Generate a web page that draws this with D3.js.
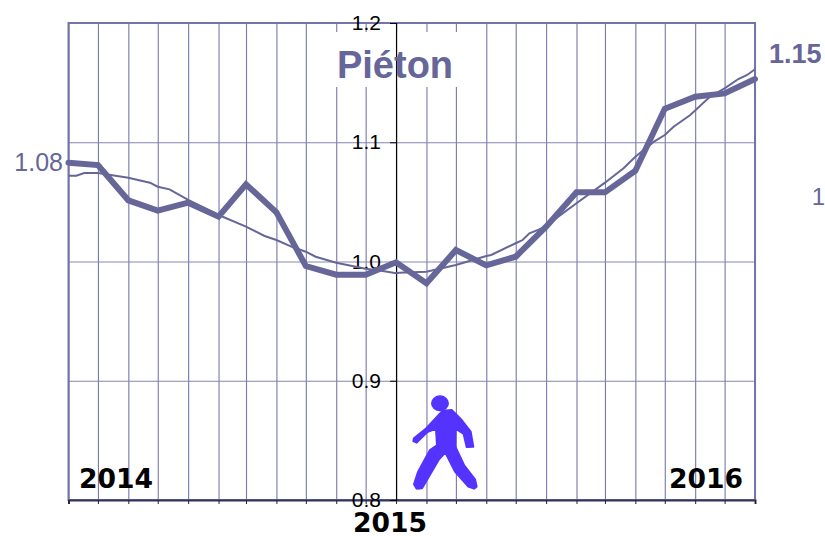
<!DOCTYPE html>
<html>
<head>
<meta charset="utf-8">
<script src="https://cdn.jsdelivr.net/npm/d3@7"></script>
<style>
  html, body { margin: 0; padding: 0; background: #fff; overflow: hidden; }
  svg { display: block; }
</style>
</head>
<body>
<div id="chart"></div>
<script>
// Data
const months = ["2014-09-01","2014-10-01","2014-11-01","2014-12-01","2015-01-01","2015-02-01","2015-03-01","2015-04-01",
  "2015-05-01","2015-06-01","2015-07-01","2015-08-01","2015-09-01","2015-10-01","2015-11-01","2015-12-01",
  "2016-01-01","2016-02-01","2016-03-01","2016-04-01","2016-05-01","2016-06-01","2016-07-01","2016-08-01"];
const monthly_values = [1.0829,1.0809,1.0513,1.0426,1.0493,1.0376,1.0647,1.0413,
  0.9962,0.9889,0.9889,0.9993,0.9817,1.0096,0.9968,1.0040,
  1.0292,1.0580,1.0580,1.0761,1.1281,1.1382,1.1410,1.1530];

const trend_dates = ["2014-09-01","2014-09-09","2014-09-17","2014-10-01","2014-11-01","2014-11-23","2014-12-01","2014-12-13",
  "2015-01-01","2015-02-01","2015-03-01","2015-03-20","2015-04-01","2015-04-18","2015-05-01","2015-05-11",
  "2015-06-01","2015-07-01","2015-07-17","2015-08-01","2015-08-04","2015-09-01","2015-10-01","2015-11-01",
  "2015-11-06","2015-12-01","2015-12-08","2015-12-15","2016-01-01","2016-01-11","2016-02-01","2016-03-01",
  "2016-03-20","2016-04-01","2016-04-20","2016-05-01","2016-05-10","2016-05-27","2016-06-16","2016-07-01",
  "2016-07-15","2016-07-24","2016-08-01"];
const trend_values = [1.0719,1.0719,1.0742,1.0742,1.0703,1.0661,1.0627,1.0605,
  1.0516,1.0390,1.0292,1.0214,1.0180,1.0119,1.0082,1.0040,
  0.9990,0.9940,0.9923,0.9901,0.9906,0.9914,0.9971,1.0046,
  1.0055,1.0153,1.0180,1.0236,1.0292,1.0362,1.0488,1.0661,
  1.0782,1.0879,1.1005,1.1061,1.1130,1.1229,1.1382,1.1452,
  1.1530,1.1564,1.1612];

const y_ticks = [0.8, 0.9, 1.0, 1.1, 1.2];
const title_text = "Piéton";
const start_label = "1.08";
const end_label = "1.15";
const cut_label = "1";
const year_labels = ["2014", "2015", "2016"];

const purple = "#666699";
const width = 825, height = 536;
const margin = { top: 23, right: 70, bottom: 36, left: 68.5 };
const inner_w = width - margin.left - margin.right;
const inner_h = height - margin.top - margin.bottom;

const parseDay = d3.timeParse("%Y-%m-%d");
const month_dates = months.map(parseDay);
const monthly = month_dates.map((d, i) => ({ date: d, value: monthly_values[i] }));
const trend = trend_dates.map((d, i) => ({ date: parseDay(d), value: trend_values[i] }));

const x = d3.scaleTime()
  .domain(d3.extent(month_dates))
  .range([0, inner_w]);
const y = d3.scaleLinear()
  .domain([0.8, 1.2])
  .range([inner_h, 0]);

const svg = d3.select("#chart").append("svg")
  .attr("width", width)
  .attr("height", height)
  .append("g")
  .attr("transform", `translate(${margin.left},${margin.top})`);

// Grid
const grid_x = svg.append("g")
  .attr("transform", `translate(0,${inner_h})`)
  .call(d3.axisBottom(x).tickValues(month_dates).tickSize(-inner_h).tickFormat(""));
grid_x.select(".domain").remove();
grid_x.selectAll(".tick line").attr("stroke", "#7777ab").attr("stroke-width", 1.1);

const grid_y = svg.append("g")
  .call(d3.axisLeft(y).tickValues(y_ticks).tickSize(-inner_w).tickFormat(""));
grid_y.select(".domain").remove();
grid_y.selectAll(".tick line").attr("stroke", "#8585b3").attr("stroke-width", 1);

// Frame
svg.append("rect")
  .attr("width", inner_w)
  .attr("height", inner_h)
  .attr("fill", "none")
  .attr("stroke", "#7474aa")
  .attr("stroke-width", 2);

// White box behind the title
svg.append("rect")
  .attr("x", 320 - margin.left)
  .attr("y", 32 - margin.top)
  .attr("width", 150)
  .attr("height", 55)
  .attr("fill", "#fff");

// Month ticks and baseline
const x_axis = svg.append("g")
  .attr("transform", `translate(0,${inner_h})`)
  .call(d3.axisBottom(x).tickValues(month_dates).tickSize(4).tickFormat(""));
x_axis.select(".domain").attr("stroke", "#33335a").attr("stroke-width", 2);
x_axis.selectAll(".tick line").attr("stroke", "#222");

// Y axis sits in the middle of the chart (August 2015)
const y_axis = svg.append("g")
  .attr("transform", `translate(${x(parseDay("2015-08-01"))},0)`)
  .call(d3.axisLeft(y).tickValues(y_ticks).tickSize(6).tickPadding(9).tickFormat(d3.format(".1f")));
y_axis.select(".domain").attr("stroke", "#000").attr("stroke-width", 1.2);
y_axis.selectAll(".tick line").attr("stroke", "#000");
y_axis.selectAll("text")
  .attr("fill", "#000")
  .style("font-family", "'Liberation Sans', Arial, sans-serif")
  .style("font-size", "21px");

// Lines
const line = d3.line()
  .x(d => x(d.date))
  .y(d => y(d.value));

svg.append("path")
  .datum(trend)
  .attr("fill", "none")
  .attr("stroke", purple)
  .attr("stroke-width", 2)
  .attr("d", line);

svg.append("path")
  .datum(monthly)
  .attr("fill", "none")
  .attr("stroke", purple)
  .attr("stroke-width", 6)
  .attr("stroke-linejoin", "miter")
  .attr("stroke-linecap", "round")
  .attr("d", line);

// Texts
const root = d3.select("#chart svg");

root.append("text")
  .attr("x", 395)
  .attr("y", 78)
  .attr("text-anchor", "middle")
  .attr("fill", purple)
  .style("font", "bold 38px 'Liberation Sans', Arial, sans-serif")
  .text(title_text);

root.append("text")
  .attr("x", 63)
  .attr("y", 171)
  .attr("text-anchor", "end")
  .attr("fill", purple)
  .style("font", "25px 'Liberation Sans', Arial, sans-serif")
  .text(start_label);

root.append("text")
  .attr("x", 769)
  .attr("y", 63)
  .attr("fill", purple)
  .style("font", "bold 27px 'Liberation Sans', Arial, sans-serif")
  .text(end_label);

root.append("text")
  .attr("x", 825)
  .attr("y", 205)
  .attr("text-anchor", "end")
  .attr("fill", purple)
  .style("font", "24px 'Liberation Sans', Arial, sans-serif")
  .text(cut_label);

const year_pos = [[79, 488], [353, 532], [669, 488]];
root.selectAll(".year")
  .data(year_labels)
  .enter().append("text")
  .attr("class", "year")
  .attr("x", (d, i) => year_pos[i][0])
  .attr("y", (d, i) => year_pos[i][1])
  .attr("fill", "#000")
  .style("font", "bold 26.6px 'DejaVu Sans', Verdana, sans-serif")
  .text(d => d);

// Walking figure
const walker = root.append("g")
  .attr("transform", "translate(340,370) scale(0.3333)")
  .attr("fill", "#5533ff")
  .attr("stroke", "#5533ff")
  .attr("stroke-width", 6)
  .attr("stroke-linejoin", "round");
walker.append("ellipse")
  .attr("cx", 300).attr("cy", 100)
  .attr("rx", 24).attr("ry", 21);
walker.append("path")
  .attr("d", "M308,122 L335,120 L365,150 L392,185 L400,230 L380,231 L371,192 L346,175 L345,228 L372,285 L405,328 L410,350 L402,356 L385,350 L345,305 L316,248 L297,268 L256,338 L246,355 L230,356 L222,343 L234,306 L270,240 L291,226 L288,176 L262,186 L230,218 L220,213 L222,205 L260,174 Z");
</script>
</body>
</html>
